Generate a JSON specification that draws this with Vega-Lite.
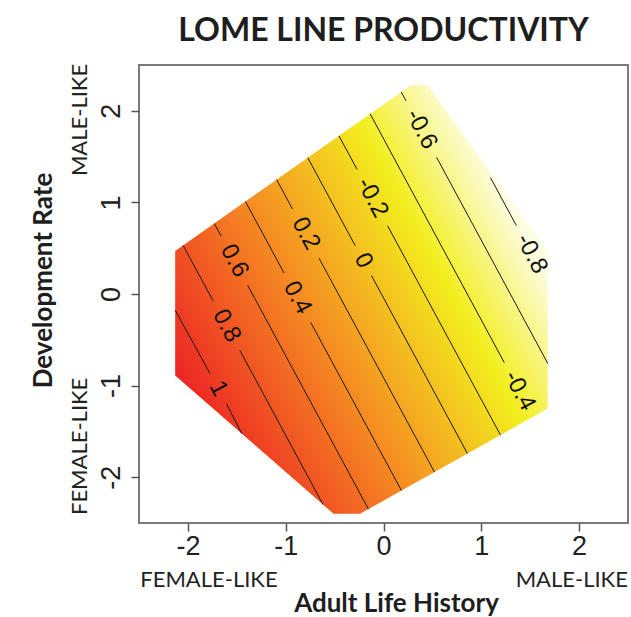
{
  "$schema": "https://vega.github.io/schema/vega-lite/v6.json",
  "autosize": {"type": "none"},
  "width": 489,
  "height": 458,
  "padding": {"left": 139, "top": 65, "right": 3, "bottom": 94},
  "background": "white",
  "config": {
    "view": {"stroke": "#7a7a7a", "strokeWidth": 2},
    "axis": {"grid": false, "domain": false}
  },
  "title": {
    "text": "LOME LINE PRODUCTIVITY",
    "font": "Lato",
    "fontSize": 32,
    "fontWeight": "bold",
    "color": "#1e1e1e",
    "anchor": "middle",
    "baseline": "alphabetic",
    "offset": 24,
    "dy": 34
  },
  "datasets": {
    "hull": [
      {"x": -2.13, "top": 0.47, "bottom": -0.89},
      {"x": -0.51, "top": 1.687, "bottom": -2.40},
      {"x": -0.24, "top": 1.889, "bottom": -2.40},
      {"x": 0.28, "top": 2.28, "bottom": -2.088},
      {"x": 0.45, "top": 2.28, "bottom": -1.987},
      {"x": 1.68, "top": 0.47, "bottom": -1.25}
    ],
    "contours": [
      {"seg": "1a", "level": 1, "x": -2.13, "y": -0.177},
      {"seg": "1a", "level": 1, "x": -1.773, "y": -0.870},
      {"seg": "1b", "level": 1, "x": -1.607, "y": -1.197},
      {"seg": "1b", "level": 1, "x": -1.449, "y": -1.525},
      {"seg": "0.8a", "level": 0.8, "x": -2.049, "y": 0.531},
      {"seg": "0.8a", "level": 0.8, "x": -1.741, "y": -0.077},
      {"seg": "0.8b", "level": 0.8, "x": -1.469, "y": -0.615},
      {"seg": "0.8b", "level": 0.8, "x": -0.618, "y": -2.299},
      {"seg": "0.6a", "level": 0.6, "x": -1.730, "y": 0.770},
      {"seg": "0.6a", "level": 0.6, "x": -1.661, "y": 0.633},
      {"seg": "0.6b", "level": 0.6, "x": -1.389, "y": 0.095},
      {"seg": "0.6b", "level": 0.6, "x": -0.154, "y": -2.349},
      {"seg": "0.4a", "level": 0.4, "x": -1.412, "y": 1.010},
      {"seg": "0.4a", "level": 0.4, "x": -1.017, "y": 0.229},
      {"seg": "0.4b", "level": 0.4, "x": -0.745, "y": -0.309},
      {"seg": "0.4b", "level": 0.4, "x": 0.1835, "y": -2.146},
      {"seg": "0.2a", "level": 0.2, "x": -1.093, "y": 1.249},
      {"seg": "0.2a", "level": 0.2, "x": -0.931, "y": 0.928},
      {"seg": "0.2b", "level": 0.2, "x": -0.659, "y": 0.390},
      {"seg": "0.2b", "level": 0.2, "x": 0.521, "y": -1.944},
      {"seg": "0a", "level": 0, "x": -0.7745, "y": 1.488},
      {"seg": "0a", "level": 0, "x": -0.289, "y": 0.527},
      {"seg": "0b", "level": 0, "x": -0.123, "y": 0.201},
      {"seg": "0b", "level": 0, "x": 0.858, "y": -1.742},
      {"seg": "-0.2a", "level": -0.2, "x": -0.456, "y": 1.727},
      {"seg": "-0.2a", "level": -0.2, "x": -0.270, "y": 1.360},
      {"seg": "-0.2b", "level": -0.2, "x": 0.042, "y": 0.744},
      {"seg": "-0.2b", "level": -0.2, "x": 1.196, "y": -1.540},
      {"seg": "-0.4a", "level": -0.4, "x": -0.137, "y": 1.967},
      {"seg": "-0.4a", "level": -0.4, "x": 1.235, "y": -0.749},
      {"seg": "-0.6a", "level": -0.6, "x": 0.181, "y": 2.206},
      {"seg": "-0.6a", "level": -0.6, "x": 0.231, "y": 2.108},
      {"seg": "-0.6b", "level": -0.6, "x": 0.543, "y": 1.492},
      {"seg": "-0.6b", "level": -0.6, "x": 1.68, "y": -0.759},
      {"seg": "-0.8a", "level": -0.8, "x": 1.094, "y": 1.27},
      {"seg": "-0.8a", "level": -0.8, "x": 1.358, "y": 0.748}
    ],
    "labels": [
      {"label": "1", "x": -1.69, "y": -1.033},
      {"label": "0.8", "x": -1.605, "y": -0.346},
      {"label": "0.6", "x": -1.525, "y": 0.364},
      {"label": "0.4", "x": -0.881, "y": -0.040},
      {"label": "0.2", "x": -0.795, "y": 0.659},
      {"label": "0", "x": -0.206, "y": 0.364},
      {"label": "-0.2", "x": -0.114, "y": 1.052},
      {"label": "-0.4", "x": 1.391, "y": -1.057},
      {"label": "-0.6", "x": 0.387, "y": 1.80},
      {"label": "-0.8", "x": 1.514, "y": 0.44}
    ]
  },
  "layer": [
    {
      "data": {"name": "hull"},
      "mark": {
        "type": "area",
        "interpolate": "linear",
        "color": {
          "gradient": "linear",
          "x1": 0, "y1": 0.677, "x2": 0.830, "y2": 0.1616,
          "stops": [
            {"offset": 0, "color": "rgb(236,36,36)"},
            {"offset": 0.375, "color": "rgb(245,135,34)"},
            {"offset": 0.75, "color": "rgb(243,238,30)"},
            {"offset": 1, "color": "rgb(253,253,228)"}
          ]
        }
      },
      "encoding": {
        "x": {
          "field": "x", "type": "quantitative",
          "scale": {"domain": [-2.5, 2.5], "nice": false, "zero": false},
          "axis": {
            "orient": "bottom",
            "values": [-2, -1, 0, 1, 2],
            "labelExpr": "'' + datum.value",
            "title": null,
            "tickSize": 8, "tickColor": "#555", "tickWidth": 1.5,
            "labelFont": "Liberation Sans", "labelFontSize": 27, "labelColor": "#222",
            "labelPadding": 2
          }
        },
        "y": {
          "field": "top", "type": "quantitative",
          "scale": {"domain": [-2.5, 2.5], "nice": false, "zero": false},
          "axis": {
            "orient": "left",
            "values": [-2, -1, 0, 1, 2],
            "labelExpr": "'' + datum.value",
            "title": null,
            "tickSize": 8, "tickColor": "#555", "tickWidth": 1.5,
            "labelFont": "Liberation Sans", "labelFontSize": 27, "labelColor": "#222",
            "labelAngle": -90, "labelAlign": "center", "labelBaseline": "alphabetic",
            "labelPadding": 12
          }
        },
        "y2": {"field": "bottom"}
      }
    },
    {
      "data": {"name": "contours"},
      "mark": {"type": "line", "color": "#1a1a1a", "strokeWidth": 1},
      "encoding": {
        "x": {
          "field": "x", "type": "quantitative",
          "axis": {
            "orient": "bottom",
            "values": [-1.79, 1.92],
            "labelExpr": "datum.value < 0 ? 'FEMALE-LIKE' : 'MALE-LIKE'",
            "ticks": false,
            "labelFont": "Lato", "labelFontSize": 22, "labelColor": "#222",
            "labelPadding": 46,
            "title": "Adult Life History",
            "titleFont": "Lato", "titleFontSize": 26, "titleFontWeight": "bold", "titleColor": "#1e1e1e",
            "titlePadding": 0,
            "titleX": 257
          }
        },
        "y": {
          "field": "y", "type": "quantitative",
          "axis": {
            "orient": "left",
            "values": [-1.658, 1.905],
            "labelExpr": "datum.value < 0 ? 'FEMALE-LIKE' : 'MALE-LIKE'",
            "ticks": false,
            "labelFont": "Lato", "labelFontSize": 22, "labelColor": "#222",
            "labelAngle": -90, "labelAlign": "center", "labelBaseline": "alphabetic",
            "labelPadding": 53,
            "title": "Development Rate",
            "titleFont": "Lato", "titleFontSize": 26, "titleFontWeight": "bold", "titleColor": "#1e1e1e",
            "titlePadding": 12,
            "titleY": 215
          }
        },
        "detail": {"field": "seg"}
      }
    },
    {
      "data": {"name": "labels"},
      "mark": {"type": "text", "angle": 62, "font": "Liberation Sans", "fontSize": 24, "color": "#111", "align": "center", "baseline": "middle"},
      "encoding": {
        "x": {"field": "x", "type": "quantitative", "axis": null},
        "y": {"field": "y", "type": "quantitative", "axis": null},
        "text": {"field": "label"}
      }
    }
  ],
  "resolve": {"axis": {"x": "independent", "y": "independent"}}
}
